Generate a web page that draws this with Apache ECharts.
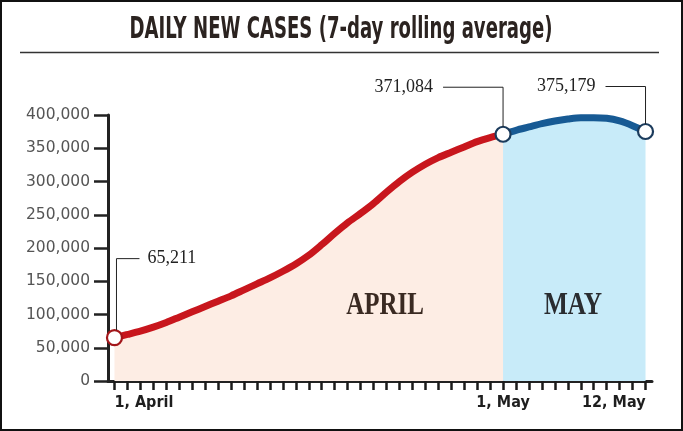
<!DOCTYPE html>
<html>
<head>
<meta charset="utf-8">
<script src="https://cdn.jsdelivr.net/npm/echarts@6/dist/echarts.min.js"></script>
<style>
  html, body { margin: 0; padding: 0; background: #fff; }
  #chart { width: 683px; height: 431px; }
</style>
</head>
<body>
<div id="chart"></div>
<script>
// days from 1 April to 12 May
const days = [
  '1, April', '2, April', '3, April', '4, April', '5, April', '6, April', '7, April',
  '8, April', '9, April', '10, April', '11, April', '12, April', '13, April', '14, April',
  '15, April', '16, April', '17, April', '18, April', '19, April', '20, April', '21, April',
  '22, April', '23, April', '24, April', '25, April', '26, April', '27, April', '28, April',
  '29, April', '30, April', '1, May', '2, May', '3, May', '4, May', '5, May', '6, May',
  '7, May', '8, May', '9, May', '10, May', '11, May', '12, May'
]
const shownDays = ['1, April', '1, May', '12, May']

// April (red) 1 Apr - 1 May
const aprilCases = [
  65211, 70000, 75000, 81000, 88000, 96000, 104000, 112000, 120000, 128000, 137000,
  146000, 155000, 165000, 176000, 189000, 205000, 222000, 238000, 252000, 267000,
  284000, 300000, 314000, 326000, 336000, 344000, 352000, 360000, 366000, 371084
]
// May (blue) 1 May - 12 May
const mayCases = [
  371084, 377000, 382000, 387000, 391000, 394000, 396000, 396000, 395000, 391000, 384000, 375179
]
const yTicks = [0, 50000, 100000, 150000, 200000, 250000, 300000, 350000, 400000]

const mayStart = aprilCases.length - 1
const maySeries = days.map((d, i) => i < mayStart ? '-' : mayCases[i - mayStart])
const markers = [
  { value: [0, aprilCases[0]], color: '#a3161a' },
  { value: [mayStart, aprilCases[mayStart]], color: '#1b3b5c' },
  { value: [days.length - 1, mayCases[mayCases.length - 1]], color: '#1b3b5c' }
]

const myChart = echarts.init(document.getElementById('chart'))

let option = {
  backgroundColor: '#fff',
  animation: false,
  grid: { left: 108, right: 31, top: 115, bottom: 50 },
  xAxis: {
    type: 'category',
    boundaryGap: true,
    data: days.map((d, i) => {
      let item = { value: d }
      if (i === 0) item.textStyle = { align: 'left' }
      if (i === days.length - 1) item.textStyle = { align: 'right' }
      return item
    }),
    axisLine: { lineStyle: { color: '#222', width: 3 } },
    axisTick: { show: true, alignWithLabel: true, interval: 0, length: 9, lineStyle: { color: '#1a1a1a', width: 2.5 } },
    axisLabel: {
      interval: (i, v) => shownDays.indexOf(v) >= 0,
      margin: 14,
      color: '#1e1e1e',
      fontSize: 16,
      fontWeight: 'bold',
      fontFamily: '"Liberation Sans Narrow", "DejaVu Sans Condensed", sans-serif'
    },
    splitLine: { show: false }
  },
  yAxis: {
    type: 'value',
    min: yTicks[0],
    max: yTicks[yTicks.length - 1],
    interval: 50000,
    axisLine: { show: true, lineStyle: { color: '#222', width: 3 } },
    axisTick: { show: true, length: 14, lineStyle: { color: '#222', width: 2.5 } },
    axisLabel: {
      formatter: v => echarts.format.addCommas(v),
      margin: 18,
      color: '#555',
      fontSize: 15.5,
      fontFamily: '"DejaVu Sans", sans-serif'
    },
    splitLine: { show: false }
  },
  series: [
    {
      name: 'April',
      type: 'line',
      data: aprilCases,
      smooth: 0.3,
      symbol: 'none',
      lineStyle: { color: '#c8161d', width: 7 },
      areaStyle: { color: '#fdede4', opacity: 1 },
      z: 2
    },
    {
      name: 'May',
      type: 'line',
      data: maySeries,
      smooth: 0.3,
      symbol: 'none',
      lineStyle: { color: '#175a94', width: 7 },
      areaStyle: { color: '#c8ebf9', opacity: 1 },
      z: 2
    },
    {
      type: 'scatter',
      data: markers.map(m => ({
        value: m.value,
        itemStyle: { color: '#fff', borderColor: m.color, borderWidth: 2.2, opacity: 1 }
      })),
      symbolSize: 15,
      z: 5
    }
  ]
}
myChart.setOption(option)

// title text: condensed look by measuring and scaling
function fitScale (text, font, width) {
  const ctx = document.createElement('canvas').getContext('2d')
  ctx.font = font
  return width / ctx.measureText(text).width
}
const titleText = 'DAILY NEW CASES (7-day rolling average)'
const titleFont = 'bold 30px "Liberation Sans Narrow", "DejaVu Sans Condensed", sans-serif'
const serifFont = '"Liberation Serif", "DejaVu Serif", serif'

let graphics = [
  {
    type: 'rect', shape: { x: 1, y: 1, width: 681, height: 429 },
    style: { fill: 'none', stroke: '#111', lineWidth: 2 }, z: 10
  },
  {
    type: 'text', x: 341, y: 30,
    scaleX: fitScale(titleText, titleFont, 423),
    style: { text: titleText, font: titleFont, fill: '#2b2320', textAlign: 'center', textVerticalAlign: 'middle' }
  },
  {
    type: 'line', shape: { x1: 20, y1: 52.5, x2: 659, y2: 52.5 },
    style: { stroke: '#333', lineWidth: 1.5 }
  },
  {
    type: 'text', x: 385, y: 306, scaleX: 0.78, z: 10,
    style: { text: 'APRIL', font: 'bold 32px ' + serifFont, fill: '#3a2a22', textAlign: 'center', textVerticalAlign: 'middle' }
  },
  {
    type: 'text', x: 573, y: 306, scaleX: 0.79, z: 10,
    style: { text: 'MAY', font: 'bold 32px ' + serifFont, fill: '#2a2c30', textAlign: 'center', textVerticalAlign: 'middle' }
  }
]

// leader-line annotations anchored to the marker points
const callouts = [
  { idx: 0, value: aprilCases[0], rise: 79, run: 25, side: 'right' },
  { idx: mayStart, value: aprilCases[mayStart], rise: 47, run: -60, side: 'left' },
  { idx: days.length - 1, value: mayCases[mayCases.length - 1], rise: 45, run: -40, side: 'left' }
]
callouts.forEach(c => {
  const p = myChart.convertToPixel({ gridIndex: 0 }, [c.idx, c.value])
  const top = p[1] - c.rise
  const lx = p[0] + (c.side === 'right' ? 2 : 0)
  graphics.push({
    type: 'polyline',
    shape: { points: [[lx, p[1] - 7.5], [lx, top], [p[0] + c.run, top]] },
    style: { stroke: '#222', lineWidth: 1, fill: 'none' },
    z: 10
  })
  graphics.push({
    type: 'text',
    x: p[0] + c.run + (c.side === 'right' ? 8 : -10),
    y: top,
    style: {
      text: echarts.format.addCommas(c.value),
      font: '18px ' + serifFont,
      fill: '#222',
      textAlign: c.side === 'right' ? 'left' : 'right',
      textVerticalAlign: 'middle'
    },
    z: 10
  })
})

myChart.setOption({ graphic: graphics })

setTimeout(function () {
  window.onresize = function () {
    myChart.resize()
  }
}, 200)
</script>
</body>
</html>
